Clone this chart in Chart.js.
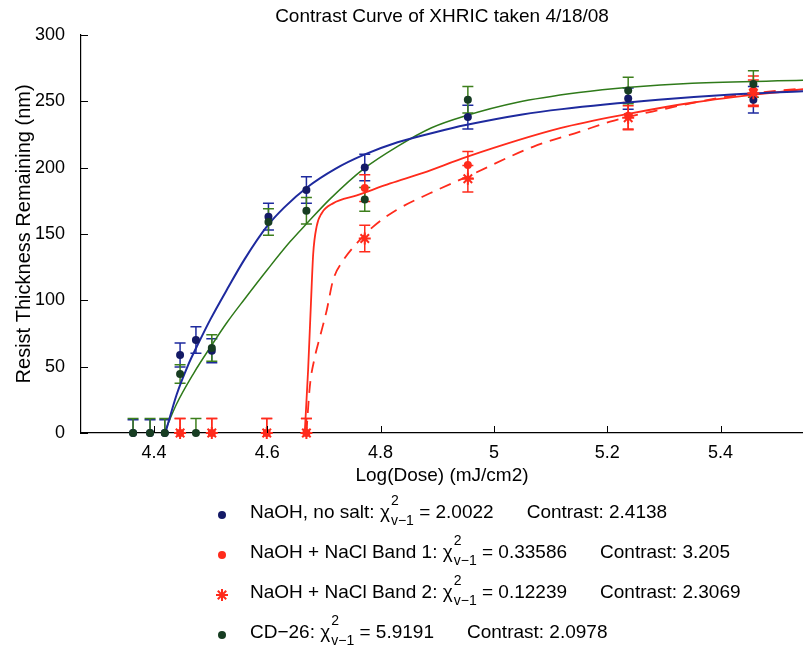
<!DOCTYPE html>
<html>
<head>
<meta charset="utf-8">
<title>Contrast Curve of XHRIC taken 4/18/08</title>
<script src="https://cdn.jsdelivr.net/npm/chart.js@4.4.0/dist/chart.umd.min.js"></script>
<style>
  body { margin: 0; background: #fff; }
  #wrap { position: relative; width: 803px; height: 648px; font-family: 'Liberation Sans', Arial, Helvetica, sans-serif; }
  #c { position: absolute; left: 0; top: 0; }
  .row { position: absolute; left: 250px; font-size: 19px; line-height: 22px; white-space: nowrap; color: #000; }
  .scr { display: inline-block; position: relative; width: 24px; height: 15px; }
  .scr span { position: absolute; left: 1px; font-size: 14px; line-height: 14px; }
  .sp { top: -10px; }
  .sb { top: 10px; }
  .gap { margin-left: 33px; }
  .mk { position: absolute; }
</style>
</head>
<body>
<div id="wrap">
  <canvas id="c" width="803" height="648"></canvas>
  <div id="legend"></div>
</div>
<script>
// measured points, x = log(dose)
const doseAll  = [4.363, 4.393, 4.419, 4.446, 4.474, 4.502, 4.602, 4.669, 4.772, 4.954, 5.237, 5.458];
const doseSalt = [4.446, 4.502, 4.599, 4.669, 4.772, 4.954, 5.237, 5.458];

const noSaltThk = [0, 0, 0, 58.8, 70, 62, 163, 183, 200, 238, 252, 251];
const noSaltErr = [10, 10, 10, 9, 10, 9, 10, 10, 10, 9, 8, 10];
const cd26Thk   = [0, 0, 0, 44.5, 0, 64, 159, 167.5, 176, 251, 258, 263];
const cd26Err   = [11, 11, 11, 7, 11, 10, 10, 10, 9, 10, 10, 10];
const band1Thk  = [0, 0, 0, 0, 184.5, 202, 239, 258];
const band1Err  = [11, 11, 11, 11, 10, 10, 10, 11];
const band2Thk  = [0, 0, 0, 0, 146.5, 191.5, 237.5, 256];
const band2Err  = [11, 11, 11, 11, 10, 10, 9, 10];

// fit curves
const noSaltFitX = [4.420, 4.440, 4.460, 4.480, 4.500, 4.530, 4.560, 4.600, 4.630, 4.670, 4.720, 4.770, 4.830, 4.900, 4.950, 5.050, 5.120, 5.290, 5.420, 5.546];
const noSaltFitY = [0, 29, 51, 69, 86, 109, 131, 156, 170, 185, 199, 209.5, 219, 227, 232, 240, 244, 251, 255, 257.5];
const cd26FitX = [4.418, 4.440, 4.470, 4.500, 4.530, 4.560, 4.600, 4.640, 4.670, 4.710, 4.770, 4.830, 4.890, 4.950, 5.040, 5.150, 5.240, 5.350, 5.546];
const cd26FitY = [0, 22, 45, 65, 84, 101, 123, 144, 158, 176, 199, 216, 230, 239, 249, 256.5, 260.5, 263.5, 265.7];
const band1FitX = [4.666, 4.672, 4.677, 4.681, 4.687, 4.696, 4.716, 4.758, 4.817, 4.875, 4.952, 5.117, 5.237, 5.352, 5.546];
const band1FitY = [0, 47.5, 97.7, 135, 155.5, 165.6, 173, 179, 188, 196, 208, 229.6, 240.4, 249, 259];
const band2FitX = [4.669, 4.675, 4.684, 4.693, 4.705, 4.716, 4.734, 4.758, 4.787, 4.828, 4.887, 4.952, 5.070, 5.152, 5.205, 5.293, 5.411, 5.546];
const band2FitY = [0, 35, 57.5, 72.6, 92.7, 115, 130, 143, 155.5, 168, 180.6, 193, 215.8, 227, 234.6, 243.4, 253.4, 259.7];

const xTicks = [4.4, 4.6, 4.8, 5, 5.2, 5.4];
const yTicks = [0, 50, 100, 150, 200, 250, 300];

const legendNames    = ['NaOH, no salt:', 'NaOH + NaCl Band 1:', 'NaOH + NaCl Band 2:', 'CD\u221226:'];
const legendChi      = ['2.0022', '0.33586', '0.12239', '5.9191'];
const legendContrast = ['2.4138', '3.205', '2.3069', '2.0978'];

const BLUE = '#1e2a9e', BLUE_DOT = '#141a66';
const GREEN = '#2f7a1a', GREEN_DOT = '#173d22', GREEN_ERR = '#3d7f1c';
const RED = '#ff2b1c';

function pts(xs, ys) { return xs.map((v, i) => ({x: v, y: ys[i]})); }

// MATLAB style ticks pointing into the axes
const innerTicks = {
  id: 'innerTicks',
  afterDraw(chart) {
    const {ctx, chartArea: a, scales: {x, y}} = chart;
    ctx.save();
    ctx.strokeStyle = '#000';
    ctx.lineWidth = 1;
    ctx.beginPath();
    xTicks.forEach(v => {
      const px = Math.round(x.getPixelForValue(v)) + 0.5;
      ctx.moveTo(px, a.bottom); ctx.lineTo(px, a.bottom - 7);
    });
    yTicks.forEach(v => {
      const py = Math.round(y.getPixelForValue(v)) + 0.5;
      ctx.moveTo(a.left, py); ctx.lineTo(a.left + 7, py);
    });
    ctx.stroke();
    ctx.restore();
  }
};

const errorBars = {
  id: 'errorBars',
  beforeDatasetsDraw(chart) {
    const {ctx, chartArea: a, scales: {x, y}} = chart;
    ctx.save();
    ctx.beginPath();
    ctx.rect(a.left, a.top - 20, a.right - a.left, a.bottom - a.top + 20);
    ctx.clip();
    ctx.lineWidth = 1.5;
    chart.data.datasets.forEach(ds => {
      if (!ds.errBars) return;
      ctx.strokeStyle = ds.errColor;
      ds.data.forEach((p, j) => {
        const e = ds.errBars[j];
        const px = x.getPixelForValue(p.x);
        const top = y.getPixelForValue(p.y + e);
        const bot = y.getPixelForValue(p.y - e);
        ctx.beginPath();
        ctx.moveTo(px, top); ctx.lineTo(px, bot);
        ctx.moveTo(px - 5.5, top); ctx.lineTo(px + 5.5, top);
        ctx.moveTo(px - 5.5, bot); ctx.lineTo(px + 5.5, bot);
        ctx.stroke();
      });
    });
    ctx.restore();
  }
};

Chart.defaults.font.family = "'Liberation Sans', Arial, Helvetica, sans-serif";
Chart.defaults.color = '#000';

const lineDs = (data, color, width, dash) => ({
  data: data, showLine: true, pointRadius: 0, borderColor: color, borderWidth: width,
  borderDash: dash || [], fill: false, cubicInterpolationMode: 'monotone', order: 10
});

new Chart(document.getElementById('c'), {
  type: 'scatter',
  data: {
    datasets: [
      lineDs(pts(noSaltFitX, noSaltFitY), BLUE, 2),
      lineDs(pts(cd26FitX, cd26FitY), GREEN, 1.5),
      lineDs(pts(band1FitX, band1FitY), RED, 1.8),
      lineDs(pts(band2FitX, band2FitY), RED, 1.8, [12, 8]),
      { label: 'NaOH, no salt', data: pts(doseAll, noSaltThk), errBars: noSaltErr, errColor: BLUE,
        pointRadius: 4, pointBackgroundColor: BLUE_DOT, pointBorderColor: BLUE_DOT, pointBorderWidth: 0, clip: false, order: 4 },
      { label: 'NaOH + NaCl Band 2', data: pts(doseSalt, band2Thk), errBars: band2Err, errColor: RED,
        pointStyle: 'star', pointRadius: 6, pointBorderColor: RED, pointBorderWidth: 2, clip: false, order: 3 },
      { label: 'NaOH + NaCl Band 1', data: pts(doseSalt, band1Thk), errBars: band1Err, errColor: RED,
        pointRadius: 4, pointBackgroundColor: RED, pointBorderColor: RED, pointBorderWidth: 0, clip: false, order: 2 },
      { label: 'CD-26', data: pts(doseAll, cd26Thk), errBars: cd26Err, errColor: GREEN_ERR,
        pointRadius: 4, pointBackgroundColor: GREEN_DOT, pointBorderColor: GREEN_DOT, pointBorderWidth: 0, clip: false, order: 1 }
    ]
  },
  options: {
    responsive: false,
    animation: false,
    events: [],
    layout: { autoPadding: false, padding: { left: 0, right: 0, top: 0, bottom: 161 } },
    plugins: {
      legend: { display: false },
      tooltip: { enabled: false },
      title: {
        display: true, fullSize: false,
        text: 'Contrast Curve of XHRIC taken 4/18/08',
        font: { size: 19, weight: 'normal' },
        padding: { top: 5, bottom: 7 }
      }
    },
    scales: {
      x: {
        type: 'linear', min: 4.2711, max: 5.5456,
        afterBuildTicks: s => { s.ticks = xTicks.map(v => ({value: v})); },
        afterFit: s => { s.height = 54; },
        grid: { display: false },
        border: { display: true, color: '#000', width: 1.2 },
        ticks: { font: { size: 18 }, padding: 1, maxRotation: 0, callback: v => String(Math.round(v * 10) / 10) },
        title: { display: true, text: 'Log(Dose) (mJ/cm2)', font: { size: 19 }, padding: { top: 0, bottom: 0 } }
      },
      y: {
        min: 0, max: 300,
        afterBuildTicks: s => { s.ticks = yTicks.map(v => ({value: v})); },
        afterFit: s => { s.width = 81; },
        grid: { display: false },
        border: { display: true, color: '#000', width: 1.2 },
        ticks: { font: { size: 18 }, padding: 8 },
        title: { display: true, text: 'Resist Thickness Remaining (nm)', font: { size: 20 }, padding: { top: 12, bottom: 0 } }
      }
    }
  },
  plugins: [innerTicks, errorBars]
});

// legend with chi-square notation
const legendMarks = [
  {type: 'dot', color: BLUE_DOT},
  {type: 'dot', color: RED},
  {type: 'star', color: RED},
  {type: 'dot', color: GREEN_DOT}
];
const leg = document.getElementById('legend');
legendNames.forEach((name, i) => {
  const row = document.createElement('div');
  row.className = 'row';
  row.style.top = (501 + i * 40) + 'px';
  row.innerHTML = name + ' <span class="chi">\u03c7</span><span class="scr"><span class="sp">2</span><span class="sb">v\u22121</span></span> = ' +
    legendChi[i] + '<span class="gap">Contrast: ' + legendContrast[i] + '</span>';
  leg.appendChild(row);

  const m = legendMarks[i];
  const cy = 515 + i * 40;
  if (m.type === 'dot') {
    const d = document.createElement('div');
    d.className = 'mk';
    d.style.cssText = 'left:218px;top:' + (cy - 4) + 'px;width:8px;height:8px;border-radius:50%;background:' + m.color;
    leg.appendChild(d);
  } else {
    const ns = 'http://www.w3.org/2000/svg';
    const svg = document.createElementNS(ns, 'svg');
    svg.setAttribute('width', '14'); svg.setAttribute('height', '14');
    svg.setAttribute('class', 'mk');
    svg.style.left = '215px'; svg.style.top = (cy - 7) + 'px';
    [[7, 1, 7, 13], [1, 7, 13, 7], [2.8, 2.8, 11.2, 11.2], [2.8, 11.2, 11.2, 2.8]].forEach(c => {
      const l = document.createElementNS(ns, 'line');
      l.setAttribute('x1', c[0]); l.setAttribute('y1', c[1]);
      l.setAttribute('x2', c[2]); l.setAttribute('y2', c[3]);
      l.setAttribute('stroke', m.color); l.setAttribute('stroke-width', '2');
      svg.appendChild(l);
    });
    leg.appendChild(svg);
  }
});
</script>
</body>
</html>
